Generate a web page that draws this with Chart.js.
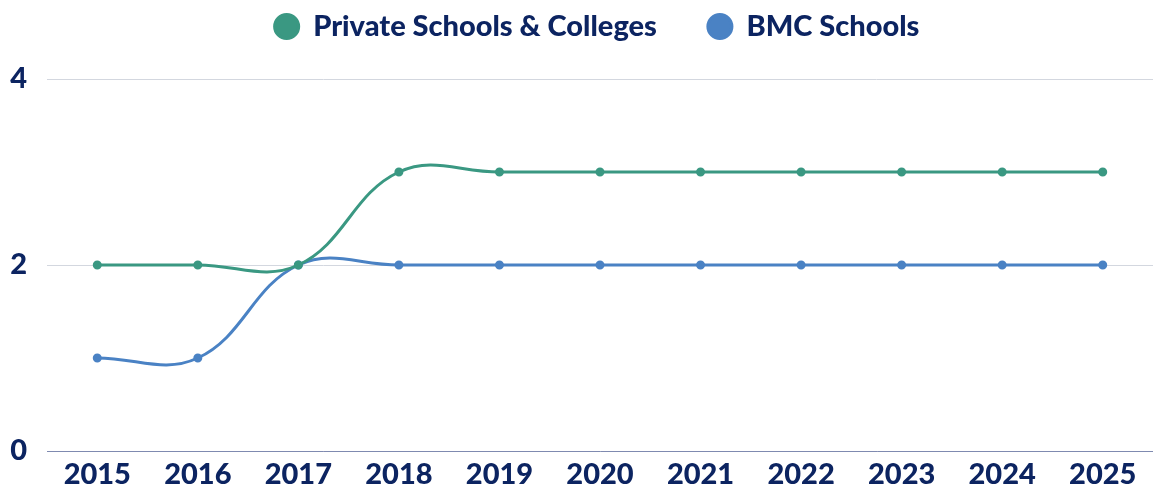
<!DOCTYPE html>
<html>
<head>
<meta charset="utf-8">
<script src="https://cdn.jsdelivr.net/npm/chart.js@4.4.1/dist/chart.umd.min.js"></script>
<style>
  html, body { margin: 0; padding: 0; background: #fff; }
  #wrap { width: 1153px; height: 491px; position: relative; }
</style>
</head>
<body>
<div id="wrap"><canvas id="chart"></canvas></div>
<script>
  // years along the x axis
  const years = ['2015', '2016', '2017', '2018', '2019', '2020', '2021', '2022', '2023', '2024', '2025'];

  // number of schools per year
  const privateSchools = [2, 2, 2, 3, 3, 3, 3, 3, 3, 3, 3];
  const bmcSchools = [1, 1, 2, 2, 2, 2, 2, 2, 2, 2, 2];

  const navy = '#0c2461';
  const boldFont = { family: 'Lato', size: 29, weight: '900' };

  // legend sits in a fixed-height band above the plot, nudged a bit right
  const legendBand = {
    id: 'legendBand',
    beforeInit(chart) {
      const fit = chart.legend.fit;
      chart.legend.fit = function () {
        fit.bind(chart.legend)();
        this.height = 118;
      };
    },
    afterLayout(chart) {
      chart.legend.left += 18;
      chart.legend.right += 18;
    }
  };

  let canvas = document.getElementById('chart').getContext('2d');

  let chart = new Chart(canvas, {
    type: 'line',
    data: {
      labels: years,
      datasets: [{
        label: 'Private Schools & Colleges',
        data: privateSchools,
        borderColor: '#3a9882',
        backgroundColor: '#3a9882',
        borderWidth: 3,
        pointRadius: 3,
        tension: 0.4,
        fill: false
      }, {
        label: 'BMC Schools',
        data: bmcSchools,
        borderColor: '#4a82c4',
        backgroundColor: '#4a82c4',
        borderWidth: 3,
        pointRadius: 3,
        tension: 0.4,
        fill: false
      }]
    },
    options: {
      responsive: true,
      maintainAspectRatio: false,
      animation: false,
      layout: { autoPadding: false, padding: { top: -39, right: -5, bottom: 0, left: 0 } },
      plugins: {
        legend: {
          labels: {
            usePointStyle: true,
            pointStyle: 'circle',
            boxWidth: 24,
            boxHeight: 17,
            padding: 51,
            color: navy,
            font: boldFont
          }
        },
        tooltip: { enabled: false }
      },
      scales: {
        x: {
          offset: true,
          grid: { display: false, drawTicks: false },
          border: { display: true, color: '#7f8ab0', width: 1 },
          ticks: {
            color: navy,
            padding: 6,
            font: boldFont
          },
          afterFit(scale) {
            scale.height = 40;
            scale.paddingLeft = 0;
            scale.paddingRight = 0;
          }
        },
        y: {
          min: 0,
          max: 4,
          grid: { color: '#d3d7df', drawTicks: false },
          border: { display: false },
          ticks: {
            stepSize: 2,
            color: navy,
            padding: 20,
            font: boldFont
          },
          afterFit(scale) { scale.width = 47; }
        }
      }
    },
    plugins: [legendBand]
  });
</script>
</body>
</html>
